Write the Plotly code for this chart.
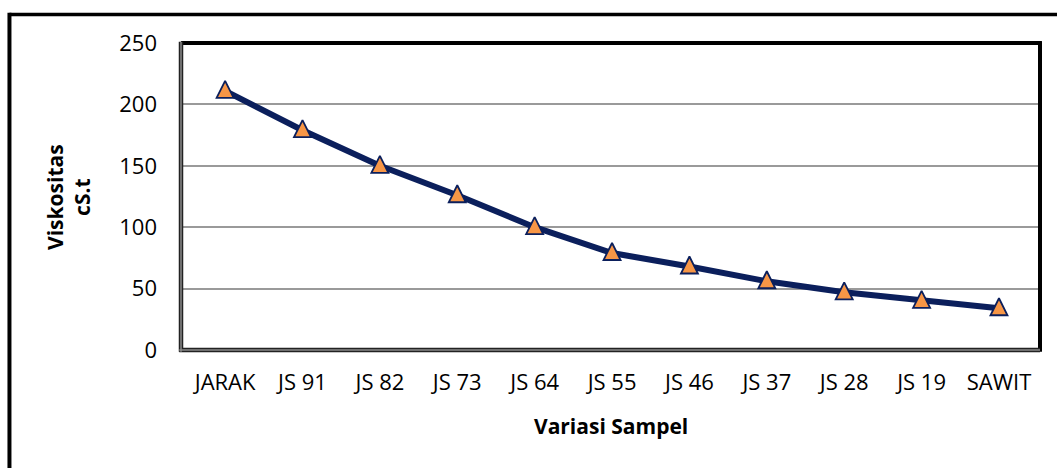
import plotly.graph_objects as go

# Viscosity of jarak / sawit oil blends
samples = ["JARAK", "JS 91", "JS 82", "JS 73", "JS 64", "JS 55",
           "JS 46", "JS 37", "JS 28", "JS 19", "SAWIT"]
viskositas = [211, 179, 150, 126, 100, 79, 68, 56, 47, 40, 34]
y_ticks = [0, 50, 100, 150, 200, 250]

FONT = "Open Sans"
NAVY = "#0B1F5C"
ORANGE = "#F79646"

W, H = 1057, 468
M = dict(l=181, r=17, t=43, b=118)
Y_RANGE = [0, 250]

# The "arrow-up" symbol hangs below its anchor point; a hidden overlay axis
# lifts it by a few pixels so each triangle is centred on the line vertex.
plot_h = H - M["t"] - M["b"]
lift_px = 10
lift = lift_px * (Y_RANGE[1] - Y_RANGE[0]) / plot_h
x_idx = list(range(len(samples)))

fig = go.Figure()
fig.add_trace(go.Scatter(
    x=x_idx, y=viskositas, mode="lines",
    line=dict(color=NAVY, width=6),
    hoverinfo="skip", showlegend=False,
))
fig.add_trace(go.Scatter(
    x=x_idx, y=viskositas, mode="markers", yaxis="y2",
    marker=dict(symbol="arrow-up", size=17,
                color=ORANGE, line=dict(color=NAVY, width=1.8)),
    text=samples, hovertemplate="%{text}: %{y}<extra></extra>",
    showlegend=False,
))

fig.update_layout(
    width=W, height=H,
    margin=M,
    paper_bgcolor="white", plot_bgcolor="white",
    font=dict(family=FONT, color="black", size=22),
    xaxis=dict(
        range=[-0.57, 10.53],
        tickmode="array",
        tickvals=x_idx,
        ticktext=samples,
        showgrid=False, zeroline=False, showline=False,
        ticks="", ticklabelstandoff=17,
        tickfont=dict(family=FONT, size=22, color="black"),
    ),
    yaxis=dict(
        range=Y_RANGE,
        tickmode="array",
        tickvals=y_ticks,
        showgrid=True, gridcolor="#9A9A9A", gridwidth=1.5,
        zeroline=False, showline=False,
        ticks="", ticklabelstandoff=23,
        tickfont=dict(family=FONT, size=22, color="black"),
    ),
    yaxis2=dict(
        range=[Y_RANGE[0] - lift, Y_RANGE[1] - lift],
        overlaying="y", visible=False,
    ),
)

# axis titles
fig.add_annotation(
    text="<b>Viskositas</b><br><b>cS.t</b>",
    xref="paper", yref="paper", x=-0.131, y=0.5,
    xanchor="center", yanchor="middle", textangle=-90,
    showarrow=False, font=dict(family=FONT, size=21, color="black"),
)
fig.add_annotation(
    text="<b>Variasi Sampel</b>",
    xref="paper", yref="paper", x=0.5, y=-0.248,
    xanchor="center", yanchor="middle",
    showarrow=False, font=dict(family=FONT, size=21, color="black"),
)

shapes = []
# plot-area frame: black top/right, double grey left/bottom
shapes.append(dict(type="line", xref="paper", yref="paper", x0=0, x1=1.002, y0=1, y1=1,
                   line=dict(color="black", width=4)))
shapes.append(dict(type="line", xref="paper", yref="paper", x0=1, x1=1, y0=1.006, y1=-0.006,
                   line=dict(color="black", width=4)))
for w, c in [(4.5, "#222222"), (1.5, "#8A8A8A")]:
    shapes.append(dict(type="line", xref="paper", yref="paper", x0=0, x1=0, y0=1.004, y1=-0.006,
                       line=dict(color=c, width=w)))
    shapes.append(dict(type="line", xref="paper", yref="paper", x0=-0.002, x1=1, y0=0, y1=0,
                       line=dict(color=c, width=w)))
# outer chart border
shapes.append(dict(type="line", xref="paper", yref="paper", x0=-0.1997, x1=1.1, y0=1.0928, y1=1.0928,
                   line=dict(color="black", width=3.5)))
shapes.append(dict(type="line", xref="paper", yref="paper", x0=-0.1997, x1=-0.1997, y0=1.0985, y1=-0.5,
                   line=dict(color="black", width=4)))
fig.update_layout(shapes=shapes)

fig.write_html("out.html")
